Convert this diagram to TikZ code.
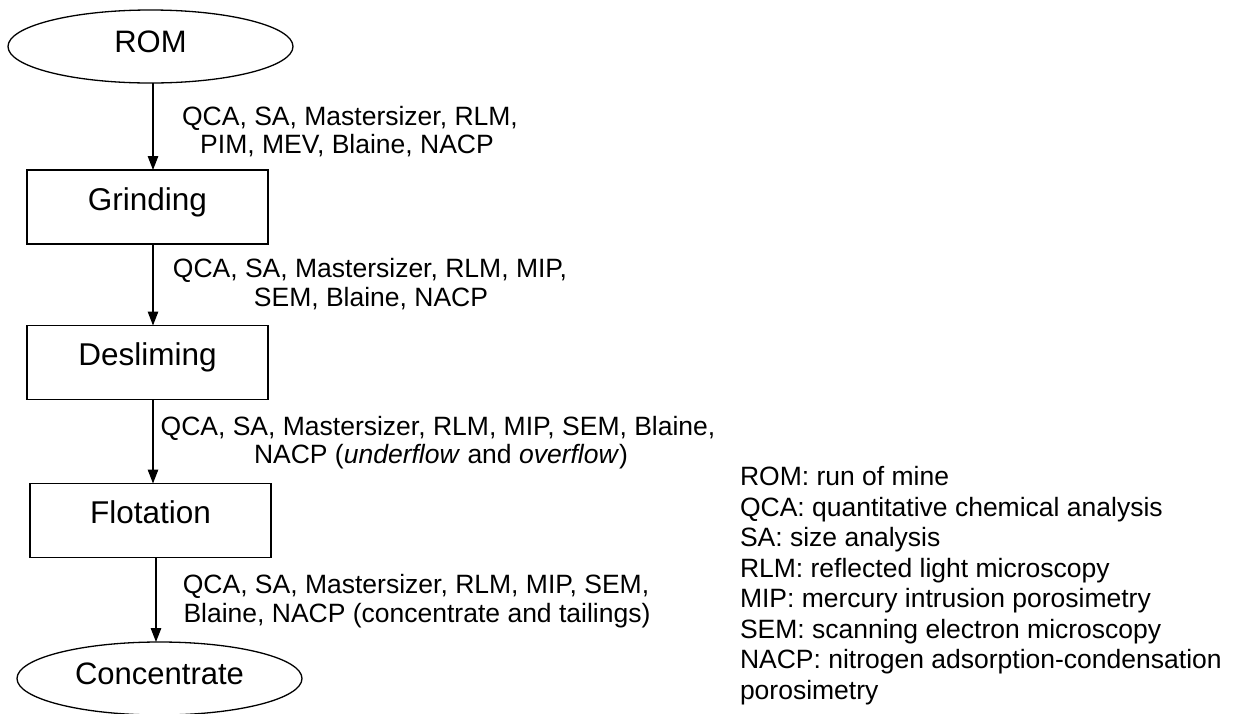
\documentclass[tikz,border=0pt]{standalone}
\usepackage{fontspec}
\setmainfont{Liberation Sans}
\usetikzlibrary{arrows.meta,shapes.geometric}
\begin{document}
\begin{tikzpicture}[x=1pt,y=-1pt,
  every node/.style={inner sep=0pt,outer sep=0pt},
  stage/.style={draw,line width=1.3pt,rectangle,minimum width=241pt,minimum height=74pt,
    font=\fontsize{31.5}{36}\selectfont,text height=23pt,text depth=17pt},
  term/.style={draw,line width=1.3pt,ellipse,minimum width=285pt,minimum height=73pt,
    font=\fontsize{31}{36}\selectfont,text height=23pt,text depth=11pt},
  lbl/.style={anchor=base,font=\fontsize{26.5}{28.5}\selectfont},
  key/.style={anchor=base west,font=\fontsize{26.5}{30.5}\selectfont},
  flow/.style={line width=1.3pt,-{Triangle[length=14pt,width=10.5pt]}}]
\useasboundingbox (0,0) rectangle (1234,713);

% process chain
\node[term]  (rom)   at (150.5,46.5)  {ROM};
\node[stage] (grind) at (147.5,207)   {Grinding};
\node[stage] (desl)  at (147.5,362.5) {Desliming};
\node[stage] (flot)  at (150.5,520.5) {Flotation};
\node[term]  (conc)  at (159.5,678.5) {Concentrate};

% vertical lines carrying the arrows
\coordinate (ax) at (153,0);
\coordinate (bx) at (156,0);
\draw[flow] (ax |- rom.south)   -- (ax |- grind.north);
\draw[flow] (ax |- grind.south) -- (ax |- desl.north);
\draw[flow] (ax |- desl.south)  -- (ax |- flot.north);
\draw[flow] (bx |- flot.south)  -- (bx |- conc.north);

% analyses carried out on each stream
\node[lbl] (g1a) at (350,125) {QCA, SA, Mastersizer, RLM,};
\node[lbl] (g1b) at (347,153) {PIM, MEV, Blaine, NACP};
\node[lbl] (g2a) at (370,277) {QCA, SA, Mastersizer, RLM, MIP,};
\node[lbl] (g2b) at (371,306) {SEM, Blaine, NACP};
\node[lbl] (g3a) at (438,435) {QCA, SA, Mastersizer, RLM, MIP, SEM, Blaine,};
\node[lbl] (g3b) at (441,463) {NACP (\textit{underflow} and \textit{overflow})};
\node[lbl] (g4a) at (416,593) {QCA, SA, Mastersizer, RLM, MIP, SEM,};
\node[lbl] (g4b) at (417,622) {Blaine, NACP (concentrate and tailings)};

% abbreviations
\node[key] (k1) at (740,485.5) {ROM: run of mine};
\node[key] (k2) at (740,516)   {QCA: quantitative chemical analysis};
\node[key] (k3) at (740,546.5) {SA: size analysis};
\node[key] (k4) at (740,577)   {RLM: reflected light microscopy};
\node[key] (k5) at (740,607.5) {MIP: mercury intrusion porosimetry};
\node[key] (k6) at (740,638)   {SEM: scanning electron microscopy};
\node[key] (k7) at (740,668.5) {NACP: nitrogen adsorption-condensation};
\node[key] (k8) at (740,699)   {porosimetry};
\end{tikzpicture}
\end{document}
